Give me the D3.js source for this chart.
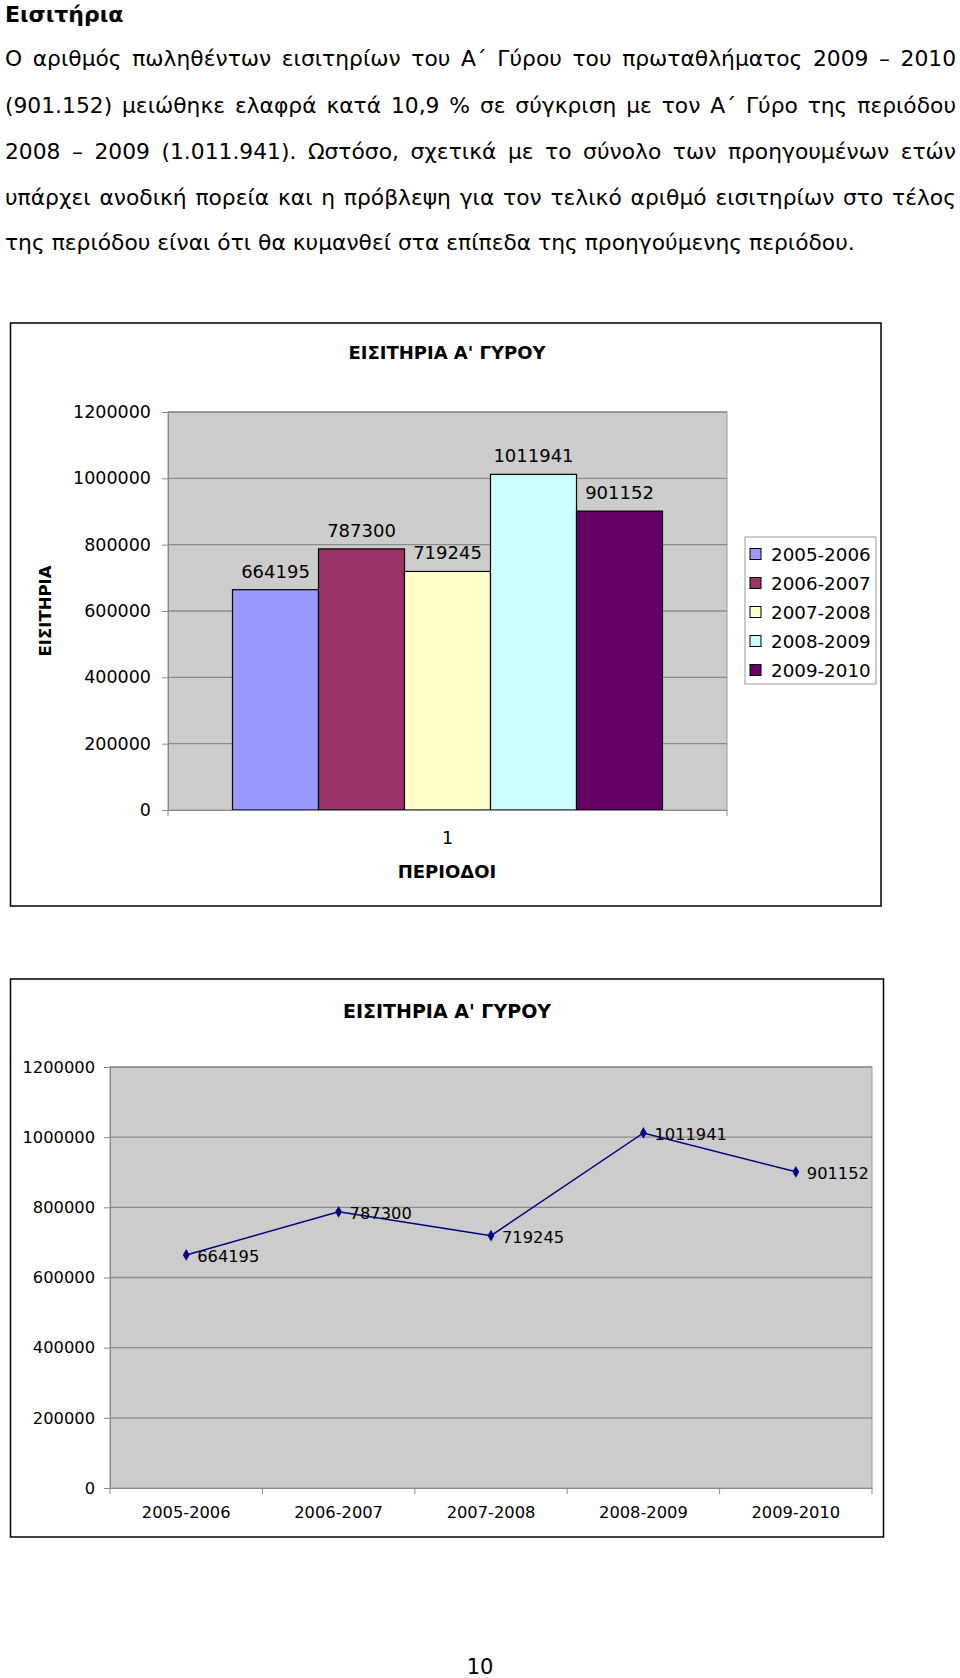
<!DOCTYPE html>
<html>
<head>
<meta charset="utf-8">
<script src="https://cdn.jsdelivr.net/npm/d3@7"></script>
<style>
  html, body { margin: 0; padding: 0; background: #fff; }
  #page { position: relative; width: 960px; height: 1678px; overflow: hidden; font-family: "DejaVu Sans", Verdana, sans-serif; }
  .heading { position: absolute; left: 5px; top: 0px; font-size: 22px; font-weight: bold; line-height: 30px; }
  .line { position: absolute; left: 5px; width: 951px; font-size: 21.8px; line-height: 24px; white-space: nowrap; text-align: justify; text-align-last: justify; }
  .line.last { text-align-last: left; }
  svg { position: absolute; left: 0; top: 0; }
  text { font-family: "DejaVu Sans", Verdana, sans-serif; }
</style>
</head>
<body>
<div id="page">
  <svg id="chart" width="960" height="1678"></svg>
</div>
<script>
// ---------- data ----------
const heading = "Εισιτήρια";
const bodyLines = [
  "Ο αριθμός πωληθέντων εισιτηρίων του Α΄ Γύρου του πρωταθλήματος 2009 – 2010",
  "(901.152) μειώθηκε ελαφρά κατά 10,9 % σε σύγκριση με τον Α΄ Γύρο της περιόδου",
  "2008 – 2009 (1.011.941). Ωστόσο, σχετικά με το σύνολο των προηγουμένων ετών",
  "υπάρχει ανοδική πορεία και η πρόβλεψη για τον τελικό αριθμό εισιτηρίων στο τέλος",
  "της περιόδου είναι ότι θα κυμανθεί στα επίπεδα της προηγούμενης περιόδου."
];
const chartTitle = "ΕΙΣΙΤΗΡΙΑ Α' ΓΥΡΟΥ";
const yAxisTitle = "ΕΙΣΙΤΗΡΙΑ";
const xAxisTitle = "ΠΕΡΙΟΔΟΙ";
const barCategories = ["1"];
const seasons = ["2005-2006", "2006-2007", "2007-2008", "2008-2009", "2009-2010"];
const tickets = [664195, 787300, 719245, 1011941, 901152];
const yTickValues = [0, 200000, 400000, 600000, 800000, 1000000, 1200000];
const pageNumber = "10";

// ---------- styles ----------
const palette = ["#9999FF", "#993366", "#FFFFCC", "#CCFFFF", "#660066"];
const plotBg = "#CCCCCC";
const gridColor = "#8C8C8C";
const lineColor = "#000080";

// ---------- body text ----------
const page = d3.select("#page");
page.append("div").attr("class", "heading").text(heading);
const lineCenters = [59, 106, 152, 198, 243];
bodyLines.forEach((t, i) => {
  page.append("div")
    .attr("class", "line" + (i === bodyLines.length - 1 ? " last" : ""))
    .style("top", (lineCenters[i] - 12) + "px")
    .text(t);
});

const svg = d3.select("#chart");

// ---------- chart 1: grouped bar ----------
(function () {
  const box = {x: 10.5, y: 323, w: 870.5, h: 583};
  const P = {l: 168, r: 727, t: 412, b: 810};
  const g = svg.append("g");
  g.append("rect").attr("x", box.x).attr("y", box.y).attr("width", box.w).attr("height", box.h)
    .attr("fill", "#fff").attr("stroke", "#000").attr("stroke-width", 1.5);
  g.append("text").attr("x", 447).attr("y", 353).attr("dy", "0.36em").attr("text-anchor", "middle")
    .attr("font-size", 18).attr("font-weight", "bold").text(chartTitle);

  const y = d3.scaleLinear().domain([0, 1200000]).range([P.b, P.t]);
  const x0 = d3.scaleBand().domain(barCategories).range([P.l, P.r]).paddingInner(0).paddingOuter(0.15);
  const x1 = d3.scaleBand().domain(seasons).range([0, x0.bandwidth()]).padding(0);

  g.append("rect").attr("x", P.l).attr("y", P.t).attr("width", P.r - P.l).attr("height", P.b - P.t)
    .attr("fill", plotBg).attr("stroke", "#9a9a9a").attr("stroke-width", 1);
  g.append("g").selectAll("line").data(yTickValues.filter(v => v > 0)).join("line")
    .attr("x1", P.l).attr("x2", P.r).attr("y1", d => y(d)).attr("y2", d => y(d))
    .attr("stroke", gridColor).attr("stroke-width", 1.3);

  // y axis
  const yAxis = g.append("g").attr("transform", `translate(${P.l},0)`)
    .call(d3.axisLeft(y).tickValues(yTickValues).tickFormat(d3.format("d")).tickSize(6).tickPadding(11));
  yAxis.select(".domain").attr("stroke", "#888");
  yAxis.selectAll(".tick line").attr("stroke", "#888");
  yAxis.selectAll("text").attr("font-size", 17.5).attr("fill", "#000").attr("font-family", "DejaVu Sans");

  // bars
  const bars = g.append("g");
  barCategories.forEach(cat => {
    bars.selectAll("rect.b").data(seasons.map((s, i) => ({s, v: tickets[i], i}))).join("rect")
      .attr("class", "b")
      .attr("x", d => x0(cat) + x1(d.s)).attr("y", d => y(d.v))
      .attr("width", x1.bandwidth()).attr("height", d => y(0) - y(d.v))
      .attr("fill", d => palette[d.i]).attr("stroke", "#000").attr("stroke-width", 1.2);
    bars.selectAll("text.lbl").data(seasons.map((s, i) => ({s, v: tickets[i]}))).join("text")
      .attr("class", "lbl")
      .attr("x", d => x0(cat) + x1(d.s) + x1.bandwidth() / 2).attr("y", d => y(d.v) - 12)
      .attr("text-anchor", "middle").attr("font-size", 18).text(d => d.v);
  });

  // x axis
  const xAxis = g.append("g").attr("transform", `translate(0,${P.b})`)
    .call(d3.axisBottom(x0).tickSize(0).tickPadding(22));
  xAxis.select(".domain").attr("stroke", "#888");
  xAxis.selectAll("text").attr("font-size", 17.5).attr("fill", "#000").attr("font-family", "DejaVu Sans");
  [P.l, P.r].forEach(px => g.append("line").attr("x1", px).attr("x2", px).attr("y1", P.b).attr("y2", P.b + 6).attr("stroke", "#888"));

  g.append("text").attr("x", 447).attr("y", 872).attr("dy", "0.36em").attr("text-anchor", "middle")
    .attr("font-size", 18).attr("font-weight", "bold").text(xAxisTitle);
  g.append("text").attr("transform", "translate(45,611) rotate(-90)").attr("dy", "0.36em")
    .attr("text-anchor", "middle").attr("font-size", 16.5).attr("font-weight", "bold").text(yAxisTitle);

  // legend
  const L = g.append("g");
  L.append("rect").attr("x", 745).attr("y", 537).attr("width", 131).attr("height", 147)
    .attr("fill", "#fff").attr("stroke", "#999").attr("stroke-width", 1);
  const ly = d3.scalePoint().domain(seasons).range([554, 670]);
  seasons.forEach((s, i) => {
    L.append("rect").attr("x", 750).attr("y", ly(s) - 5.5).attr("width", 11).attr("height", 11)
      .attr("fill", palette[i]).attr("stroke", "#000").attr("stroke-width", 1);
    L.append("text").attr("x", 771).attr("y", ly(s)).attr("dy", "0.36em").attr("font-size", 18.3).text(s);
  });
})();

// ---------- chart 2: line ----------
(function () {
  const box = {x: 10.5, y: 979, w: 873, h: 558};
  const P = {l: 110, r: 872, t: 1067, b: 1488};
  const g = svg.append("g");
  g.append("rect").attr("x", box.x).attr("y", box.y).attr("width", box.w).attr("height", box.h)
    .attr("fill", "#fff").attr("stroke", "#000").attr("stroke-width", 1.5);
  g.append("text").attr("x", 447).attr("y", 1011).attr("dy", "0.36em").attr("text-anchor", "middle")
    .attr("font-size", 19).attr("font-weight", "bold").text(chartTitle);

  const y = d3.scaleLinear().domain([0, 1200000]).range([P.b, P.t]);
  const x = d3.scaleBand().domain(seasons).range([P.l, P.r]).padding(0);

  g.append("rect").attr("x", P.l).attr("y", P.t).attr("width", P.r - P.l).attr("height", P.b - P.t)
    .attr("fill", plotBg).attr("stroke", "#9a9a9a").attr("stroke-width", 1);
  g.append("g").selectAll("line").data(yTickValues.filter(v => v > 0)).join("line")
    .attr("x1", P.l).attr("x2", P.r).attr("y1", d => y(d)).attr("y2", d => y(d))
    .attr("stroke", gridColor).attr("stroke-width", 1.3);

  const yAxis = g.append("g").attr("transform", `translate(${P.l},0)`)
    .call(d3.axisLeft(y).tickValues(yTickValues).tickFormat(d3.format("d")).tickSize(6).tickPadding(9));
  yAxis.select(".domain").attr("stroke", "#888");
  yAxis.selectAll(".tick line").attr("stroke", "#888");
  yAxis.selectAll("text").attr("font-size", 16.3).attr("fill", "#000").attr("font-family", "DejaVu Sans");

  const xAxis = g.append("g").attr("transform", `translate(0,${P.b})`)
    .call(d3.axisBottom(x).tickSize(0).tickPadding(18));
  xAxis.select(".domain").attr("stroke", "#888");
  xAxis.selectAll("text").attr("font-size", 16.3).attr("fill", "#000").attr("font-family", "DejaVu Sans");
  const bounds = seasons.map(s => x(s)).concat([P.r]);
  g.append("g").selectAll("line").data(bounds).join("line")
    .attr("x1", d => d).attr("x2", d => d).attr("y1", P.b).attr("y2", P.b + 6).attr("stroke", "#888");

  const pts = seasons.map((s, i) => ({s, v: tickets[i]}));
  const cx = d => x(d.s) + x.bandwidth() / 2;
  g.append("path").datum(pts)
    .attr("d", d3.line().x(cx).y(d => y(d.v)))
    .attr("fill", "none").attr("stroke", lineColor).attr("stroke-width", 1.5);
  g.append("g").selectAll("path").data(pts).join("path")
    .attr("transform", d => `translate(${cx(d)},${y(d.v)})`)
    .attr("d", d3.symbol().type(d3.symbolDiamond).size(40))
    .attr("fill", lineColor);
  g.append("g").selectAll("text").data(pts).join("text")
    .attr("x", d => cx(d) + 11).attr("y", d => y(d.v) + 1).attr("dy", "0.36em")
    .attr("font-size", 16.3).text(d => d.v);
})();

svg.append("text").attr("x", 480).attr("y", 1666).attr("dy", "0.36em").attr("text-anchor", "middle")
  .attr("font-size", 21).text(pageNumber);
</script>
</body>
</html>
